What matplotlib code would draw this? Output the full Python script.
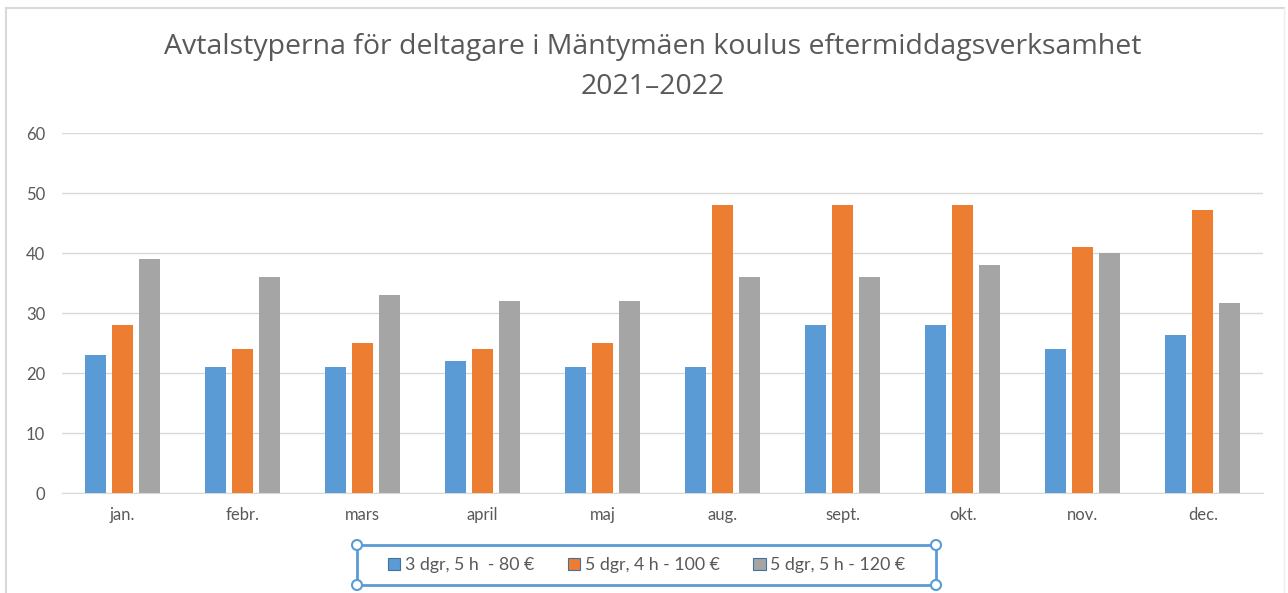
import matplotlib.pyplot as plt
import numpy as np
from matplotlib.patches import Circle
from matplotlib.lines import Line2D

# data
months = ["jan.", "febr.", "mars", "april", "maj", "aug.", "sept.", "okt.", "nov.", "dec."]
s80 = [23, 21, 21, 22, 21, 21, 28, 28, 24, 26.4]
s100 = [28, 24, 25, 24, 25, 48, 48, 48, 41, 47.2]
s120 = [39, 36, 33, 32, 32, 36, 36, 38, 40, 31.6]
labels = ["3 dgr, 5 h  - 80 €", "5 dgr, 4 h - 100 €", "5 dgr, 5 h - 120 €"]
colors = ["#5b9bd5", "#ed7d31", "#a5a5a5"]

plt.rcParams['font.family'] = ['Lato', 'DejaVu Sans']

fig = plt.figure(figsize=(12.88, 5.93), dpi=100)
ax = fig.add_axes([62 / 1288, 1 - 493 / 593, (1263 - 62) / 1288, 360 / 593])

x = np.arange(len(months))
w = 0.175
off = 0.225
for i, (vals, c, lab) in enumerate(zip([s80, s100, s120], colors, labels)):
    ax.bar(x + (i - 1) * off, vals, w, color=c, label=lab, zorder=3)

ax.set_xlim(-0.5, len(months) - 0.5)
ax.set_ylim(0, 60)
ax.set_yticks(range(0, 61, 10))
ax.set_xticks(x)
ax.set_xticklabels(months)
ax.grid(axis='y', color='#d9d9d9', linewidth=1, zorder=0)
for s in ['top', 'right', 'left']:
    ax.spines[s].set_visible(False)
ax.spines['bottom'].set_color('#d9d9d9')
ax.tick_params(axis='both', length=0, colors='#595959', labelsize=12)
ax.tick_params(axis='x', pad=10)
ax.tick_params(axis='y', pad=12)

title_font = ['Open Sans', 'DejaVu Sans']
fig.text(0.507, 1 - 47 / 593, "Avtalstyperna för deltagare i Mäntymäen koulus eftermiddagsverksamhet",
         ha='center', va='center', fontsize=20.5, color='#595959', family=title_font)
fig.text(0.507, 1 - 87 / 593, "2021–2022", ha='center', va='center', fontsize=20.5,
         color='#595959', family=title_font)

# outer chart frame
fig.add_artist(Line2D([6 / 1288, 1284 / 1288], [1 - 8 / 593, 1 - 8 / 593], color='#d9d9d9', lw=1.5))
fig.add_artist(Line2D([6 / 1288, 6 / 1288], [0, 1 - 8 / 593], color='#d9d9d9', lw=1.5))
fig.add_artist(Line2D([1284 / 1288, 1284 / 1288], [0, 1 - 8 / 593], color='#eeeeee', lw=1))

# legend with selection-style box
leg = fig.legend(loc='center', bbox_to_anchor=(0.5019, 1 - 565 / 593), ncol=3, fontsize=12.8,
                 frameon=False, handlelength=0.7, handleheight=0.7, handletextpad=0.25,
                 columnspacing=1.9, labelcolor='#595959')
for h in leg.legend_handles:
    h.set_edgecolor('#41719c')
    h.set_linewidth(0.8)

x0, x1 = 357 / 1288, 936 / 1288
y0, y1 = 1 - 585 / 593, 1 - 545 / 593
box = plt.Rectangle((x0, y0), x1 - x0, y1 - y0, transform=fig.transFigure,
                    fill=False, edgecolor='#5b9bd5', lw=2)
fig.add_artist(box)
for cx in (x0, x1):
    for cy in (y0, y1):
        fig.add_artist(Circle((cx * 1288, cy * 593), 5, transform=None,
                              facecolor='white', edgecolor='#5b9bd5', lw=1.5, zorder=5))

fig.savefig("out.png", dpi=100)
